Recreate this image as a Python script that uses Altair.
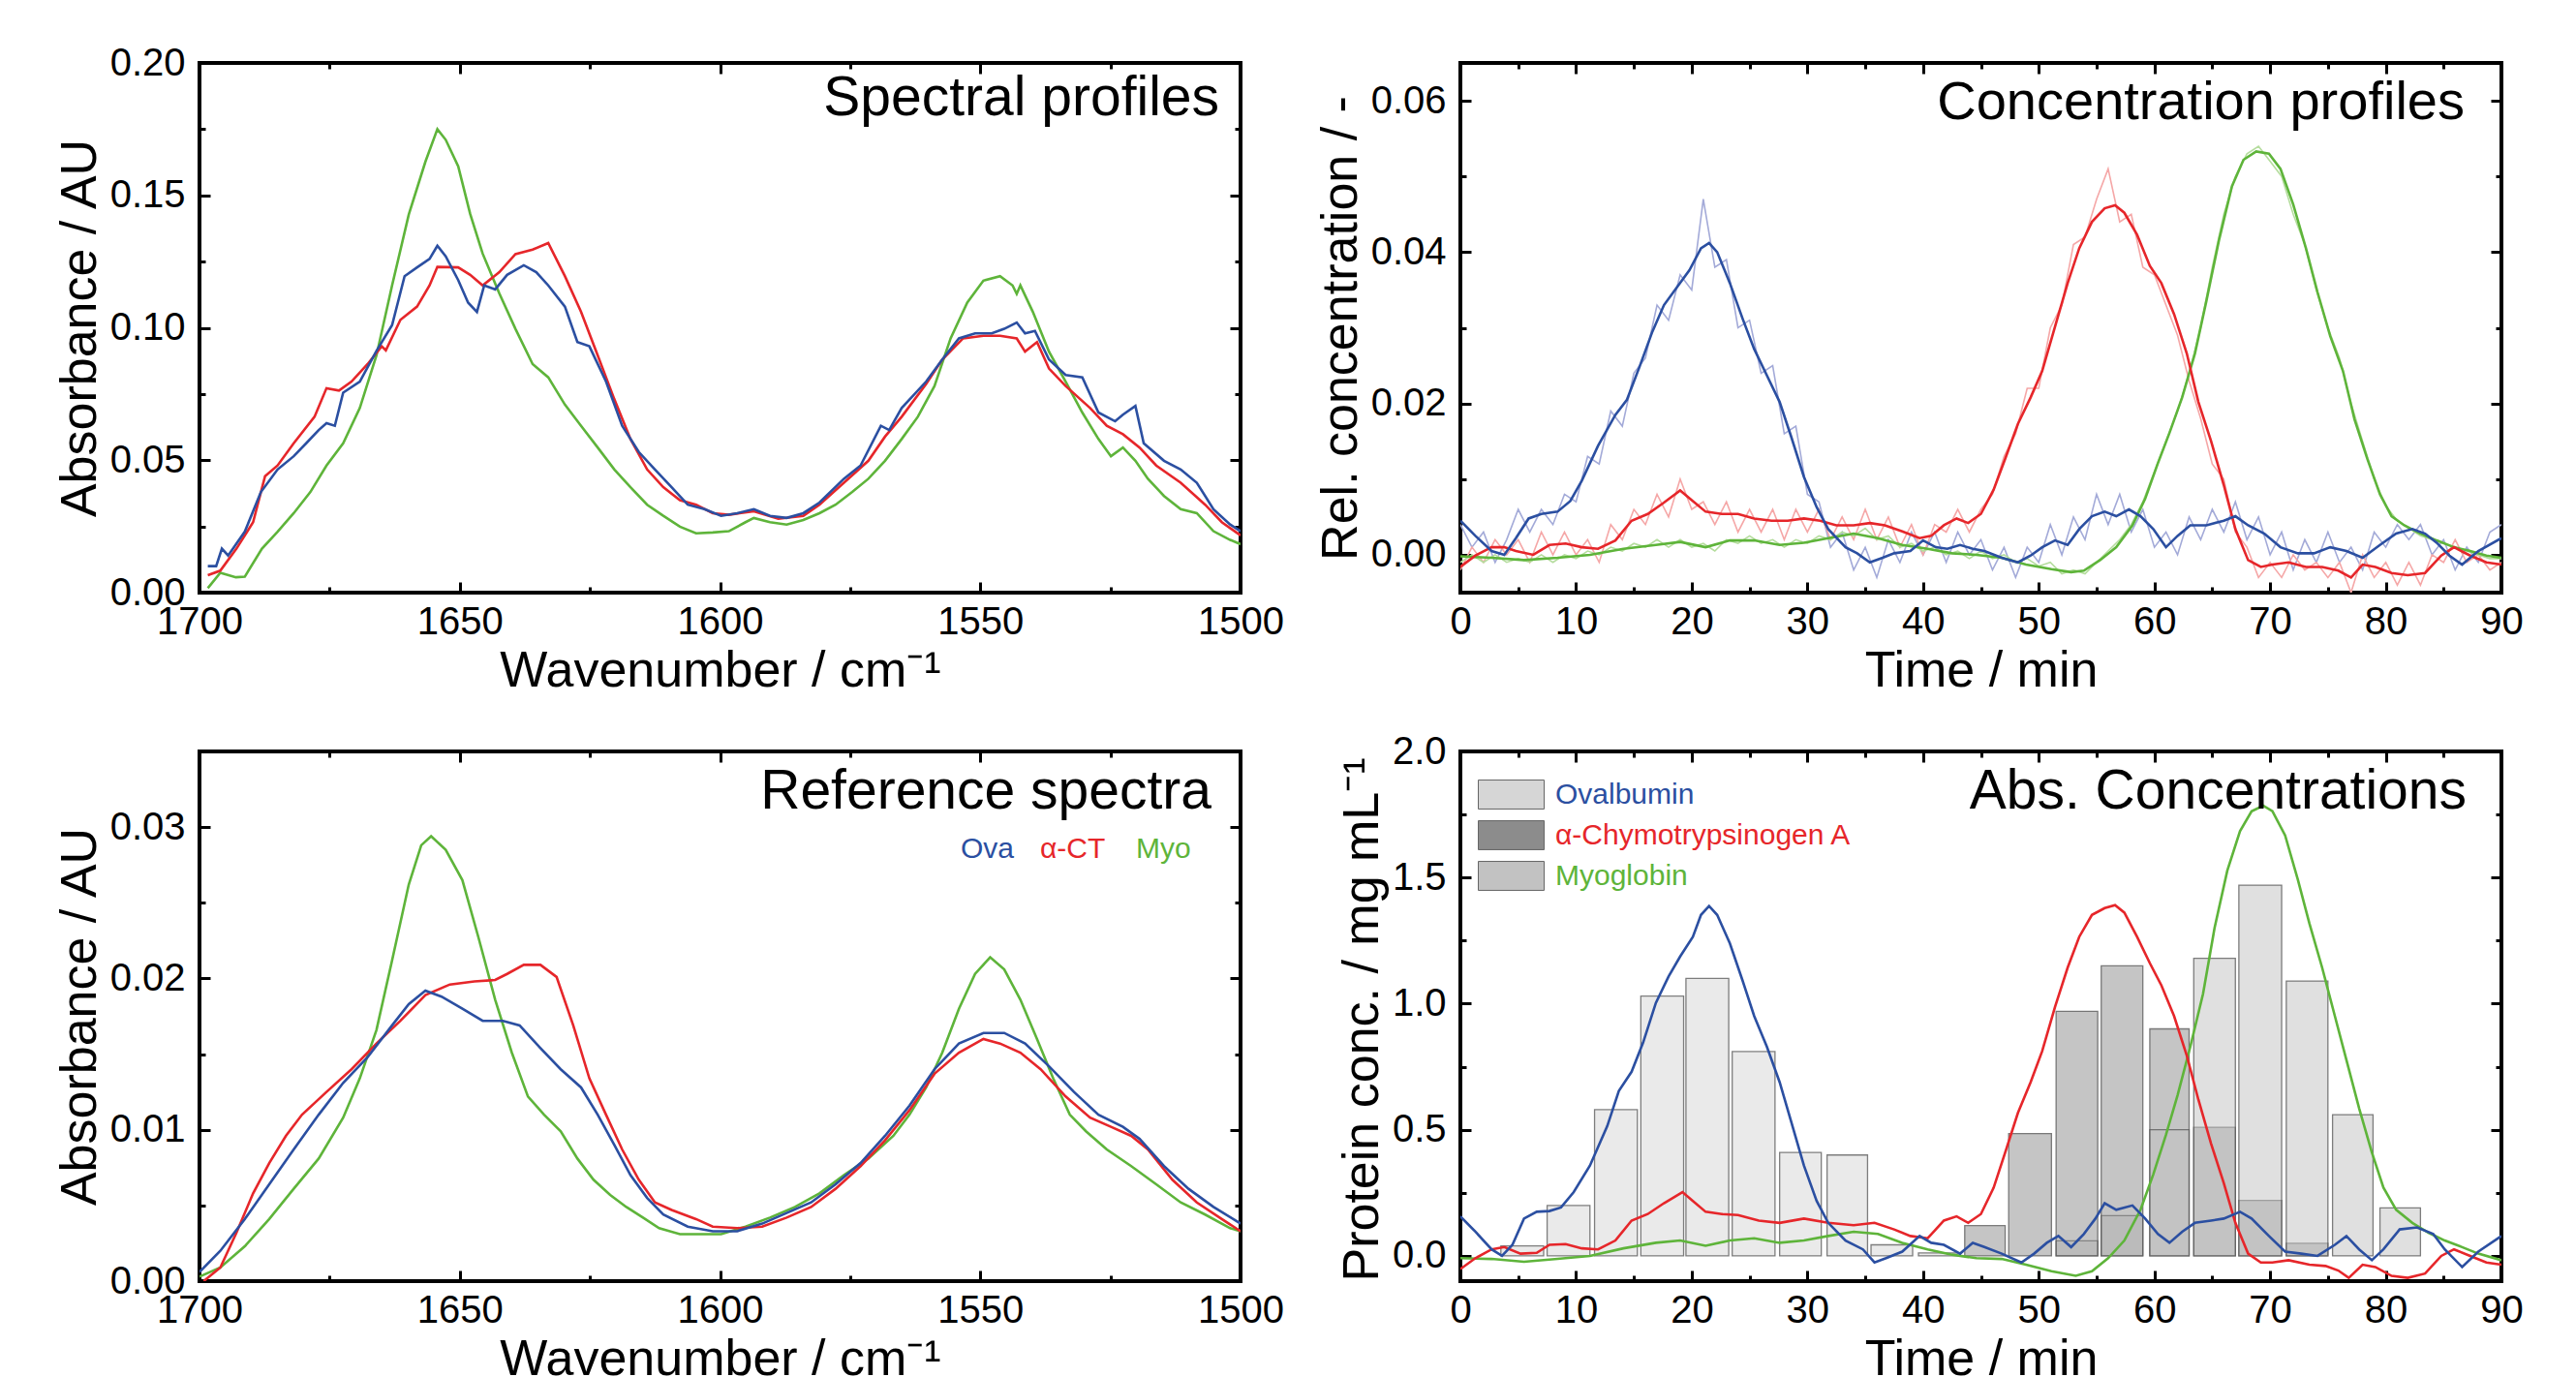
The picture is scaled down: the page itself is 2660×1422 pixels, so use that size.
import altair as alt
import pandas as pd

FONT = "Liberation Sans"
BLUE, RED, GREEN = "#2b4fa1", "#e6262a", "#5eb43a"
BLUE_RAW, RED_RAW, GREEN_RAW = "#a3aad8", "#f5a7a7", "#b5dd9e"
W, H = 1075, 547
COL_GAP, ROW_GAP = 227, 164
TMAJ, TMIN = -11, -6
LABEL_GAP_Y = 15
LABEL_GAP_X = 10

# ---------------- Panel A: Spectral profiles ----------------
spec_myo_wn = [1698.4, 1696.0, 1693.0, 1691.3, 1688.0, 1685.0, 1681.9, 1678.7, 1675.6, 1672.4, 1669.2, 1666.0,
               1663.0, 1659.8, 1656.6, 1654.3, 1652.7, 1650.3, 1648.0, 1645.6, 1642.4, 1639.3, 1636.0, 1633.0,
               1629.8, 1626.7, 1623.5, 1620.3, 1617.2, 1614.0, 1610.9, 1607.7, 1604.6, 1601.4, 1598.3, 1595.1,
               1593.5, 1590.4, 1587.2, 1584.0, 1580.9, 1577.8, 1574.6, 1571.5, 1568.3, 1565.1, 1562.0, 1558.8,
               1555.7, 1552.5, 1549.4, 1546.2, 1543.8, 1543.0, 1542.3, 1539.9, 1536.8, 1533.6, 1530.4, 1527.3,
               1524.9, 1522.6, 1520.2, 1517.8, 1514.7, 1511.5, 1508.4, 1505.2, 1502.0, 1500.0]
spec_myo_abs = [0.0017, 0.0075, 0.0058, 0.0060, 0.0166, 0.0230, 0.0300, 0.0380, 0.0480, 0.0564, 0.0697, 0.0896,
                0.1160, 0.1427, 0.1627, 0.1750, 0.1710, 0.1610, 0.1430, 0.1280, 0.1130, 0.0996, 0.0863, 0.0813,
                0.0710, 0.0630, 0.0548, 0.0465, 0.0398, 0.0332, 0.0290, 0.0249, 0.0224, 0.0227, 0.0232, 0.0266,
                0.0282, 0.0266, 0.0257, 0.0274, 0.0300, 0.0332, 0.0380, 0.0430, 0.0498, 0.0580, 0.0664, 0.0780,
                0.0960, 0.1095, 0.1178, 0.1195, 0.1160, 0.1128, 0.1160, 0.1060, 0.0910, 0.0797, 0.0680, 0.0580,
                0.0515, 0.0548, 0.0498, 0.0430, 0.0365, 0.0315, 0.0300, 0.0232, 0.0199, 0.0183]
spec_act_wn = [1698.4, 1696.0, 1692.9, 1689.7, 1687.4, 1685.0, 1681.9, 1677.9, 1675.6, 1673.2, 1670.8, 1667.7,
               1665.0, 1664.2, 1661.4, 1658.2, 1655.8, 1654.3, 1650.3, 1648.0, 1645.6, 1642.4, 1639.3, 1636.0,
               1633.0, 1629.8, 1626.7, 1623.5, 1620.3, 1617.2, 1614.0, 1610.9, 1607.7, 1604.6, 1601.4, 1598.3,
               1593.5, 1588.8, 1584.0, 1580.9, 1576.2, 1571.5, 1568.3, 1565.1, 1560.4, 1557.3, 1553.3, 1549.4,
               1546.2, 1543.0, 1541.4, 1539.1, 1536.8, 1533.6, 1528.9, 1525.7, 1522.6, 1519.4, 1516.2, 1511.5,
               1506.8, 1503.6, 1500.0]
spec_act_abs = [0.0066, 0.0083, 0.0166, 0.0266, 0.0440, 0.0480, 0.0564, 0.0664, 0.0772, 0.0763, 0.0797, 0.0863,
                0.0930, 0.0915, 0.1030, 0.1080, 0.1160, 0.1230, 0.1228, 0.1200, 0.1160, 0.1210, 0.1278, 0.1295,
                0.1320, 0.1195, 0.1060, 0.0896, 0.0730, 0.0580, 0.0465, 0.0398, 0.0349, 0.0332, 0.0300, 0.0294,
                0.0307, 0.0279, 0.0290, 0.0332, 0.0415, 0.0498, 0.0589, 0.0664, 0.0788, 0.0880, 0.0960, 0.0970,
                0.0970, 0.0960, 0.0910, 0.0946, 0.0846, 0.0780, 0.0697, 0.0630, 0.0598, 0.0548, 0.0480, 0.0415,
                0.0332, 0.0266, 0.0216]
spec_ova_wn = [1698.4, 1696.8, 1695.7, 1694.5, 1691.3, 1688.2, 1685.0, 1681.9, 1679.5, 1677.1, 1675.6, 1674.0,
               1672.4, 1669.2, 1666.0, 1663.0, 1660.6, 1658.2, 1655.8, 1654.3, 1652.7, 1650.3, 1648.4, 1646.7,
               1645.3, 1643.2, 1640.9, 1637.7, 1635.3, 1633.0, 1629.8, 1627.4, 1625.1, 1621.9, 1618.8, 1615.6,
               1612.5, 1609.3, 1606.2, 1603.0, 1599.8, 1596.7, 1593.5, 1590.4, 1587.2, 1584.0, 1580.9, 1576.2,
               1573.0, 1569.1, 1567.5, 1565.1, 1560.4, 1557.3, 1554.1, 1551.0, 1547.8, 1545.4, 1543.0, 1541.4,
               1539.5, 1536.8, 1533.6, 1530.4, 1527.3, 1524.1, 1522.6, 1520.2, 1518.6, 1514.7, 1511.5, 1508.4,
               1505.2, 1502.0, 1500.0]
spec_ova_abs = [0.0100, 0.0100, 0.0166, 0.0140, 0.0230, 0.0380, 0.0465, 0.0515, 0.0564, 0.0614, 0.0640, 0.0630,
                0.0755, 0.0797, 0.0913, 0.1010, 0.1195, 0.1228, 0.1260, 0.1310, 0.1270, 0.1180, 0.1095, 0.1060,
                0.1160, 0.1145, 0.1200, 0.1236, 0.1210, 0.1160, 0.1080, 0.0946, 0.0930, 0.0797, 0.0630, 0.0531,
                0.0465, 0.0398, 0.0332, 0.0315, 0.0290, 0.0300, 0.0315, 0.0290, 0.0282, 0.0300, 0.0340, 0.0430,
                0.0480, 0.0630, 0.0614, 0.0697, 0.0797, 0.0880, 0.0960, 0.0979, 0.0979, 0.0996, 0.1020, 0.0979,
                0.0988, 0.0880, 0.0822, 0.0813, 0.0680, 0.0647, 0.0672, 0.0705, 0.0564, 0.0498, 0.0465, 0.0415,
                0.0315, 0.0257, 0.0232]

# ---------------- Panel C: Reference spectra ----------------
ref_myo_wn = [1700.0, 1696.0, 1691.3, 1686.6, 1681.9, 1677.1, 1672.4, 1669.2, 1666.0, 1663.0, 1659.8, 1657.4,
              1655.5, 1652.7, 1649.5, 1646.4, 1643.2, 1640.0, 1636.9, 1633.8, 1630.6, 1627.4, 1624.3, 1621.1,
              1618.0, 1614.8, 1611.7, 1607.7, 1603.0, 1599.8, 1595.1, 1590.4, 1585.6, 1580.9, 1576.2, 1571.5,
              1566.7, 1563.6, 1560.4, 1557.3, 1554.1, 1551.0, 1548.1, 1545.4, 1542.3, 1539.1, 1536.0, 1532.8,
              1529.7, 1525.7, 1521.0, 1516.2, 1511.5, 1506.8, 1502.0, 1500.0]
ref_myo_abs = [0.0003, 0.0009, 0.0023, 0.0041, 0.0061, 0.0081, 0.0108, 0.0134, 0.0166, 0.0212, 0.0262, 0.0288,
               0.0294, 0.0285, 0.0265, 0.0227, 0.0186, 0.0151, 0.0122, 0.0110, 0.0099, 0.0081, 0.0067, 0.0057,
               0.0049, 0.0042, 0.0035, 0.0031, 0.0031, 0.0031, 0.0036, 0.0042, 0.0049, 0.0058, 0.0070, 0.0081,
               0.0096, 0.0110, 0.0128, 0.0151, 0.0180, 0.0203, 0.0214, 0.0206, 0.0186, 0.0160, 0.0134, 0.0110,
               0.0099, 0.0087, 0.0076, 0.0064, 0.0052, 0.0044, 0.0035, 0.0033]
ref_act_wn = [1699.2, 1696.0, 1692.9, 1689.7, 1686.6, 1683.4, 1680.3, 1675.6, 1670.8, 1666.0, 1661.4, 1656.6,
              1651.9, 1647.2, 1643.2, 1640.9, 1637.7, 1634.5, 1631.4, 1628.2, 1625.1, 1621.9, 1618.8, 1615.6,
              1612.5, 1609.3, 1604.6, 1601.4, 1596.7, 1591.9, 1587.2, 1582.5, 1577.8, 1573.0, 1568.3, 1563.6,
              1558.8, 1554.1, 1549.4, 1546.2, 1542.3, 1538.4, 1533.6, 1528.9, 1524.9, 1521.0, 1517.8, 1513.1,
              1508.4, 1503.6, 1500.0]
ref_act_abs = [0.0000, 0.0009, 0.0032, 0.0058, 0.0078, 0.0096, 0.0110, 0.0125, 0.0140, 0.0157, 0.0172, 0.0189,
               0.0196, 0.0198, 0.0199, 0.0203, 0.0209, 0.0209, 0.0201, 0.0169, 0.0134, 0.0110, 0.0087, 0.0067,
               0.0052, 0.0047, 0.0041, 0.0036, 0.0035, 0.0036, 0.0042, 0.0049, 0.0061, 0.0076, 0.0093, 0.0113,
               0.0137, 0.0151, 0.0160, 0.0157, 0.0151, 0.0140, 0.0122, 0.0108, 0.0102, 0.0096, 0.0087, 0.0067,
               0.0052, 0.0041, 0.0033]
ref_ova_wn = [1700.0, 1696.0, 1691.3, 1686.6, 1681.9, 1677.1, 1672.4, 1667.7, 1663.0, 1659.8, 1656.6, 1653.5,
              1649.5, 1645.6, 1641.7, 1638.5, 1634.5, 1630.6, 1626.7, 1623.5, 1620.3, 1617.2, 1614.0, 1610.9,
              1606.2, 1601.4, 1596.7, 1591.9, 1587.2, 1582.5, 1577.8, 1573.0, 1568.3, 1563.6, 1558.8, 1554.1,
              1549.4, 1545.4, 1541.4, 1536.8, 1532.0, 1527.3, 1522.6, 1519.4, 1514.7, 1510.0, 1505.2, 1500.0]
ref_ova_abs = [0.0006, 0.0020, 0.0041, 0.0064, 0.0087, 0.0110, 0.0131, 0.0148, 0.0169, 0.0183, 0.0192, 0.0188,
               0.0180, 0.0172, 0.0172, 0.0169, 0.0154, 0.0140, 0.0128, 0.0110, 0.0090, 0.0070, 0.0055, 0.0044,
               0.0036, 0.0033, 0.0033, 0.0038, 0.0045, 0.0052, 0.0064, 0.0078, 0.0096, 0.0116, 0.0140, 0.0157,
               0.0164, 0.0164, 0.0157, 0.0142, 0.0125, 0.0110, 0.0102, 0.0094, 0.0076, 0.0061, 0.0049, 0.0038]

# ---------------- Panel B: Concentration profiles ----------------
conc_ova_t = [0, 1.3, 2.7, 3.8, 4.8, 5.9, 7.0, 8.4, 9.5, 10.5, 11.9, 13.4, 14.4, 15.5, 16.6, 17.6, 18.7, 19.8,
              20.8, 21.5, 22.2, 23.3, 24.4, 25.4, 26.5, 27.6, 28.6, 29.7, 30.8, 31.8, 33.3, 34.3, 35.4, 36.5,
              37.5, 38.9, 40.0, 41.1, 42.1, 43.2, 44.3, 45.3, 46.8, 48.2, 49.3, 50.3, 51.4, 52.5, 53.5, 54.6,
              55.7, 56.7, 57.8, 58.8, 59.9, 61.0, 62.0, 63.1, 64.5, 66.0, 67.0, 68.1, 69.5, 70.9, 72.4, 73.8,
              75.2, 76.6, 78.0, 79.5, 80.9, 82.3, 83.4, 84.4, 85.5, 86.6, 88.0, 90.0]
conc_ova_c = [0.0045, 0.0025, 0.0005, 0.0000, 0.0022, 0.0048, 0.0054, 0.0057, 0.0071, 0.0098, 0.0144, 0.0185,
              0.0205, 0.0249, 0.0295, 0.0330, 0.0353, 0.0376, 0.0405, 0.0412, 0.0400, 0.0359, 0.0312, 0.0272,
              0.0237, 0.0202, 0.0156, 0.0103, 0.0063, 0.0034, 0.0010, 0.0002, -0.0010, -0.0004, 0.0002, 0.0005,
              0.0019, 0.0010, 0.0008, 0.0013, 0.0008, 0.0005, -0.0004, -0.0010, -0.0001, 0.0010, 0.0019, 0.0013,
              0.0034, 0.0051, 0.0057, 0.0051, 0.0060, 0.0051, 0.0034, 0.0010, 0.0025, 0.0039, 0.0039, 0.0045,
              0.0051, 0.0039, 0.0028, 0.0010, 0.0002, 0.0002, 0.0010, 0.0005, -0.0004, 0.0013, 0.0028, 0.0034,
              0.0028, 0.0016, -0.0001, -0.0013, 0.0005, 0.0022]
conc_act_t = [0, 1.3, 2.7, 3.8, 4.8, 6.3, 7.7, 9.1, 10.5, 11.9, 13.4, 14.8, 16.2, 17.6, 19.0, 20.1, 21.2, 22.6,
              24.0, 25.4, 26.9, 28.3, 29.7, 31.1, 32.5, 34.0, 35.4, 36.7, 38.2, 39.7, 40.7, 41.8, 42.9, 43.9,
              45.0, 46.1, 47.1, 48.2, 49.3, 50.3, 51.4, 52.5, 53.5, 54.6, 55.7, 56.6, 57.4, 58.5, 59.6, 60.6,
              61.7, 62.8, 63.8, 64.9, 66.0, 67.0, 68.1, 69.2, 70.2, 71.6, 73.1, 74.5, 75.9, 77.0, 78.0, 79.1,
              80.5, 81.9, 83.4, 84.8, 85.9, 87.3, 88.7, 90.0]
conc_act_c = [-0.0016, -0.0001, 0.0010, 0.0010, 0.0005, 0.0000, 0.0013, 0.0015, 0.0010, 0.0008, 0.0019, 0.0045,
              0.0054, 0.0069, 0.0085, 0.0071, 0.0057, 0.0054, 0.0054, 0.0048, 0.0045, 0.0045, 0.0048, 0.0045,
              0.0039, 0.0039, 0.0042, 0.0039, 0.0031, 0.0022, 0.0025, 0.0039, 0.0048, 0.0042, 0.0054, 0.0086,
              0.0127, 0.0173, 0.0208, 0.0243, 0.0301, 0.0359, 0.0405, 0.0440, 0.0458, 0.0462, 0.0452, 0.0423,
              0.0382, 0.0359, 0.0318, 0.0266, 0.0202, 0.0150, 0.0092, 0.0034, -0.0007, -0.0016, -0.0013, -0.0010,
              -0.0016, -0.0016, -0.0021, -0.0030, -0.0013, -0.0016, -0.0024, -0.0027, -0.0024, -0.0001, 0.0010,
              -0.0001, -0.0010, -0.0013]
conc_myo_t = [0, 2.7, 5.5, 8.4, 11.2, 14.1, 16.9, 19.0, 21.2, 23.3, 25.4, 27.6, 29.7, 31.8, 34.0, 36.1, 38.2,
              40.4, 42.5, 44.6, 46.8, 48.9, 51.1, 52.8, 53.9, 55.3, 56.7, 58.1, 59.2, 60.3, 61.3, 62.4, 63.5,
              64.5, 65.6, 66.7, 67.7, 68.8, 69.9, 70.9, 72.0, 73.1, 74.1, 75.2, 76.3, 77.3, 78.4, 79.5, 80.5,
              81.6, 83.0, 84.4, 85.9, 87.3, 88.7, 90.0]
conc_myo_c = [-0.0002, -0.0004, -0.0007, -0.0004, 0.0000, 0.0008, 0.0013, 0.0017, 0.0010, 0.0019, 0.0019, 0.0013,
              0.0016, 0.0022, 0.0028, 0.0022, 0.0013, 0.0008, 0.0002, 0.0000, -0.0004, -0.0013, -0.0019, -0.0023,
              -0.0021, -0.0007, 0.0010, 0.0039, 0.0074, 0.0121, 0.0161, 0.0208, 0.0266, 0.0336, 0.0417, 0.0487,
              0.0522, 0.0533, 0.0530, 0.0510, 0.0463, 0.0405, 0.0347, 0.0289, 0.0243, 0.0179, 0.0127, 0.0080,
              0.0051, 0.0039, 0.0028, 0.0019, 0.0010, 0.0005, -0.0001, -0.0004]
raw_t = list(range(0, 91))
raw_ova = [0.004, 0.001, 0.003, -0.001, 0.002, 0.006, 0.003, 0.006, 0.004, 0.008, 0.007, 0.013, 0.012, 0.019,
           0.017, 0.024, 0.026, 0.033, 0.031, 0.037, 0.035, 0.047, 0.038, 0.039, 0.030, 0.031, 0.024, 0.025,
           0.016, 0.017, 0.008, 0.007, 0.001, 0.003, -0.002, 0.001, -0.003, 0.002, -0.001, 0.003, 0.000, 0.003,
           -0.001, 0.003, 0.000, 0.002, -0.002, 0.001, -0.003, 0.001, -0.001, 0.004, 0.000, 0.005, 0.002, 0.008,
           0.004, 0.008, 0.003, 0.006, 0.001, 0.003, 0.000, 0.005, 0.002, 0.006, 0.003, 0.007, 0.002, 0.005,
           0.000, 0.003, -0.002, 0.002, -0.001, 0.003, -0.001, 0.001, -0.002, 0.003, 0.001, 0.004, 0.002, 0.004,
           0.000, 0.002, -0.002, 0.001, -0.001, 0.003, 0.004]
raw_act = [-0.002, 0.001, -0.001, 0.002, 0.000, 0.002, -0.001, 0.003, 0.000, 0.003, 0.000, 0.002, -0.001, 0.004,
           0.002, 0.006, 0.004, 0.008, 0.005, 0.010, 0.006, 0.007, 0.004, 0.007, 0.003, 0.006, 0.003, 0.006,
           0.002, 0.006, 0.003, 0.006, 0.002, 0.005, 0.002, 0.006, 0.002, 0.005, 0.001, 0.004, 0.000, 0.004,
           0.003, 0.006, 0.003, 0.006, 0.008, 0.013, 0.016, 0.022, 0.022, 0.030, 0.033, 0.041, 0.042, 0.047,
           0.051, 0.044, 0.045, 0.038, 0.037, 0.033, 0.029, 0.023, 0.018, 0.012, 0.010, 0.003, 0.001, -0.003,
           -0.001, -0.003, 0.000, -0.002, -0.001, -0.003, -0.001, -0.005, 0.000, -0.003, -0.001, -0.004, -0.001,
           -0.004, 0.000, -0.001, 0.002, -0.001, 0.000, -0.002, -0.001]
raw_myo = [-0.001, 0.000, -0.001, 0.000, -0.001, -0.0005, -0.001, 0.000, -0.001, 0.000, -0.0005, 0.0005, 0.000,
           0.001, 0.0005, 0.0015, 0.001, 0.002, 0.001, 0.002, 0.001, 0.0015, 0.0005, 0.002, 0.0015, 0.0025,
           0.0015, 0.002, 0.001, 0.002, 0.0015, 0.0025, 0.002, 0.003, 0.0025, 0.0035, 0.002, 0.0025, 0.001,
           0.0015, 0.0005, 0.001, 0.000, 0.0005, -0.0005, 0.0005, -0.0005, 0.000, -0.001, -0.0005, -0.0015,
           -0.001, -0.0025, -0.002, -0.0025, -0.001, 0.0005, 0.002, 0.004, 0.007, 0.011, 0.015, 0.019, 0.024,
           0.030, 0.038, 0.045, 0.050, 0.053, 0.054, 0.052, 0.050, 0.045, 0.041, 0.035, 0.030, 0.026, 0.020,
           0.015, 0.010, 0.0065, 0.0045, 0.0035, 0.0025, 0.002, 0.0015, 0.001, 0.0005, 0.000, -0.0005, -0.0005]

# ---------------- Panel D: Abs. Concentrations ----------------
abs_ova_t = [0, 1.3, 2.7, 3.6, 4.5, 5.5, 6.6, 7.7, 8.7, 9.8, 11.2, 12.7, 13.7, 14.8, 15.8, 16.9, 18.0, 19.0,
             20.1, 20.8, 21.5, 22.2, 23.3, 24.4, 25.4, 26.5, 27.6, 28.6, 29.7, 30.8, 31.8, 33.3, 34.8, 35.8,
             36.8, 38.2, 39.7, 40.7, 41.8, 43.2, 44.3, 45.3, 46.8, 48.5, 49.6, 50.7, 51.7, 52.8, 53.9, 54.9,
             55.7, 56.7, 58.1, 59.2, 60.3, 61.3, 62.4, 63.5, 64.9, 66.0, 67.4, 68.4, 69.9, 71.3, 72.7, 74.1,
             75.6, 76.6, 77.7, 78.8, 79.8, 81.2, 82.7, 84.1, 85.1, 86.6, 88.0, 90.0]
abs_ova_c = [0.157, 0.096, 0.026, 0.000, 0.044, 0.148, 0.175, 0.178, 0.192, 0.253, 0.358, 0.515, 0.654, 0.730,
             0.846, 1.003, 1.108, 1.187, 1.265, 1.352, 1.387, 1.352, 1.239, 1.091, 0.951, 0.829, 0.689, 0.532,
             0.358, 0.218, 0.131, 0.061, 0.026, -0.026, -0.009, 0.017, 0.079, 0.052, 0.044, 0.009, 0.052, 0.035,
             0.009, -0.026, 0.009, 0.052, 0.079, 0.035, 0.087, 0.148, 0.209, 0.183, 0.200, 0.148, 0.087, 0.052,
             0.096, 0.131, 0.140, 0.148, 0.175, 0.148, 0.079, 0.017, 0.009, 0.000, 0.044, 0.079, 0.026, -0.017,
             0.026, 0.105, 0.113, 0.087, 0.026, -0.044, 0.017, 0.079]
abs_act_t = [0, 1.3, 2.7, 3.8, 5.2, 6.6, 7.7, 9.1, 10.5, 11.9, 13.4, 14.8, 16.2, 17.6, 19.2, 20.1, 21.2, 22.6,
             24.0, 25.8, 27.6, 29.7, 31.8, 34.0, 35.8, 37.5, 38.9, 40.4, 41.8, 42.9, 43.9, 45.0, 46.1, 47.1,
             48.2, 49.3, 50.3, 51.4, 52.5, 53.5, 54.6, 55.7, 56.6, 57.4, 58.5, 59.6, 60.6, 61.7, 62.8, 63.8,
             64.9, 66.0, 67.0, 68.1, 69.2, 70.2, 71.6, 73.4, 74.8, 75.9, 76.8, 78.0, 79.1, 80.5, 81.9, 83.4,
             84.8, 85.9, 87.3, 88.7, 90.0]
abs_act_c = [-0.052, -0.009, 0.026, 0.035, 0.009, 0.012, 0.044, 0.047, 0.030, 0.026, 0.061, 0.140, 0.166, 0.209,
             0.253, 0.218, 0.175, 0.166, 0.162, 0.140, 0.131, 0.148, 0.131, 0.122, 0.131, 0.105, 0.079, 0.070,
             0.140, 0.157, 0.131, 0.166, 0.270, 0.410, 0.567, 0.689, 0.812, 0.986, 1.143, 1.265, 1.352, 1.379,
             1.391, 1.361, 1.265, 1.161, 1.073, 0.951, 0.794, 0.620, 0.445, 0.288, 0.131, 0.009, -0.026, -0.026,
             -0.017, -0.035, -0.040, -0.058, -0.087, -0.035, -0.044, -0.079, -0.087, -0.070, 0.000, 0.026, 0.000,
             -0.026, -0.035]
abs_myo_t = [0, 2.7, 5.5, 8.4, 11.2, 14.1, 16.9, 19.0, 21.2, 23.3, 25.4, 27.6, 29.7, 31.8, 34.0, 36.1, 38.2,
             40.4, 42.5, 44.6, 46.8, 48.9, 51.1, 53.2, 54.6, 56.0, 57.4, 58.8, 59.9, 61.0, 62.0, 63.1, 64.2,
             65.2, 66.3, 67.4, 68.4, 69.4, 70.2, 71.3, 72.4, 73.4, 74.5, 75.6, 76.6, 77.7, 78.8, 79.8, 80.9,
             82.3, 83.7, 85.1, 86.6, 88.0, 90.0]
abs_myo_c = [-0.009, -0.012, -0.023, -0.012, 0.000, 0.030, 0.052, 0.061, 0.040, 0.061, 0.070, 0.052, 0.061, 0.079,
             0.096, 0.087, 0.052, 0.026, 0.005, -0.009, -0.012, -0.035, -0.061, -0.079, -0.061, -0.009, 0.061,
             0.183, 0.323, 0.480, 0.637, 0.829, 1.038, 1.300, 1.527, 1.684, 1.763, 1.785, 1.763, 1.667, 1.492,
             1.318, 1.143, 0.951, 0.777, 0.585, 0.410, 0.271, 0.183, 0.131, 0.092, 0.061, 0.035, 0.009, -0.017]

frac_start = [3.5, 7.5, 11.6, 15.6, 19.5, 23.5, 27.6, 31.7, 35.5, 39.6, 43.6, 47.4, 51.5, 55.4, 59.6, 63.4,
              67.3, 71.4, 75.4, 79.5]
frac_end = [7.2, 11.2, 15.3, 19.3, 23.2, 27.2, 31.2, 35.2, 39.1, 43.2, 47.1, 51.1, 55.1, 59.0, 63.0, 67.0,
            71.0, 75.0, 78.9, 83.0]
bar_ova = [0.04, 0.20, 0.58, 1.03, 1.10, 0.81, 0.41, 0.40, 0.044, 0.012, 0, 0, 0.06, 0.16, 0, 0, 0, 0, 0, 0]
bar_act = [0, 0, 0, 0, 0, 0, 0, 0, 0, 0, 0.12, 0.485, 0.97, 1.15, 0.90, 0.51, 0.22, 0.05, 0, 0]
bar_myo = [0, 0, 0, 0, 0, 0, 0, 0, 0, 0, 0, 0, 0, 0, 0.50, 1.18, 1.47, 1.09, 0.56, 0.19]
protein_names = ["Ovalbumin", "α-Chymotrypsinogen A", "Myoglobin"]
bar_fills = ["#d6d6d6", "#8c8c8c", "#c2c2c2"]

panel_titles = ["Spectral profiles", "Concentration profiles", "Reference spectra", "Abs. Concentrations"]
ref_labels = ["Ova", "α-CT", "Myo"]

wn_ticks = [1700, 1675, 1650, 1625, 1600, 1575, 1550, 1525, 1500]
t_ticks = [0, 5, 10, 15, 20, 25, 30, 35, 40, 45, 50, 55, 60, 65, 70, 75, 80, 85, 90]
yA_ticks = [0, 0.025, 0.05, 0.075, 0.1, 0.125, 0.15, 0.175, 0.2]
yB_ticks = [0, 0.01, 0.02, 0.03, 0.04, 0.05, 0.06]
yC_ticks = [0, 0.005, 0.01, 0.015, 0.02, 0.025, 0.03, 0.035]
yD_ticks = [0, 0.25, 0.5, 0.75, 1.0, 1.25, 1.5, 1.75, 2.0]


def maj(step):
    return f"abs(datum.value / {step} - round(datum.value / {step})) < 0.01"


def axis(orient, vals, step, fmt="d", title="", tpad=0, anchor=None):
    kw = dict(orient=orient, values=vals, grid=False, domain=False,
              tickSize={"expr": f"{maj(step)} ? {TMAJ} : {TMIN}"},
              tickColor="black", tickWidth=3)
    if orient in ("bottom", "left"):
        gap = LABEL_GAP_X if orient == "bottom" else LABEL_GAP_Y
        kw.update(format=fmt, title=title, titlePadding=tpad,
                  labelExpr=f"{maj(step)} ? datum.label : ''",
                  labelPadding=gap - TMAJ, labelFlush=False, labelOverlap=False)
        if anchor:
            kw["titleAnchor"] = anchor
    else:
        kw.update(labels=False, title=None)
    return alt.Axis(**kw)


def text_layer(label, px, py, size, color="black", align="right"):
    return alt.Chart(alt.Data(values=[{"label": label}])).mark_text(
        font=FONT, fontSize=size, color=color, align=align, baseline="alphabetic"
    ).encode(x=alt.value(px), y=alt.value(py), text="label:N")


def panel(series, xs, ys, xax, yax, mirror_x, mirror_y, extra_front=(), extra_back=()):
    layers = list(extra_back)
    first = True
    for d, color, width in series:
        layers.append(alt.Chart(d).mark_line(color=color, strokeWidth=width, clip=True).encode(
            x=alt.X("x:Q", scale=xs, axis=xax if first else None),
            y=alt.Y("y:Q", scale=ys, axis=yax if first else None),
        ))
        first = False
    layers.append(alt.Chart(series[0][0]).mark_point(opacity=0).encode(
        x=alt.X("x:Q", scale=xs, axis=mirror_x),
        y=alt.Y("y:Q", scale=ys, axis=mirror_y),
    ))
    layers += list(extra_front)
    return alt.layer(*layers).properties(width=W, height=H)


def df(xs, ys):
    return pd.DataFrame({"x": xs, "y": ys})


wn_scale = alt.Scale(domain=[1500, 1700], reverse=True, nice=False, zero=False)
t_scale = alt.Scale(domain=[0, 90], nice=False, zero=False)

# Panel A
pA = panel(
    [(df(spec_myo_wn, spec_myo_abs), GREEN, 2.6), (df(spec_act_wn, spec_act_abs), RED, 2.6),
     (df(spec_ova_wn, spec_ova_abs), BLUE, 2.6)],
    wn_scale, alt.Scale(domain=[0, 0.2], nice=False, zero=False),
    axis("bottom", wn_ticks, 50, "d", "Wavenumber / cm⁻¹", 0),
    axis("left", yA_ticks, 0.05, ".2f", "Absorbance / AU", 4),
    axis("top", wn_ticks, 50), axis("right", yA_ticks, 0.05),
    extra_front=[text_layer(panel_titles[0], 1053, 54, 57)],
)

# Panel B
yB_scale = alt.Scale(domain=[-0.005, 0.065], nice=False, zero=False)
raw_layers = []
for vals, col in [(raw_ova, BLUE_RAW), (raw_act, RED_RAW), (raw_myo, GREEN_RAW)]:
    raw_layers.append(alt.Chart(df(raw_t, vals)).mark_line(color=col, strokeWidth=1.6, clip=True).encode(
        x=alt.X("x:Q", scale=t_scale, axis=None), y=alt.Y("y:Q", scale=yB_scale, axis=None)))
pB = panel(
    [(df(conc_myo_t, conc_myo_c), GREEN, 2.6), (df(conc_act_t, conc_act_c), RED, 2.6),
     (df(conc_ova_t, conc_ova_c), BLUE, 2.6)],
    t_scale, yB_scale,
    axis("bottom", t_ticks, 10, "d", "Time / min", 0),
    axis("left", yB_ticks, 0.02, ".2f", "Rel. concentration / -", 4),
    axis("top", t_ticks, 10), axis("right", yB_ticks, 0.02),
    extra_back=raw_layers,
    extra_front=[text_layer(panel_titles[1], 1037, 58, 56)],
)

# Panel C
pC = panel(
    [(df(ref_myo_wn, ref_myo_abs), GREEN, 2.6), (df(ref_act_wn, ref_act_abs), RED, 2.6),
     (df(ref_ova_wn, ref_ova_abs), BLUE, 2.6)],
    wn_scale, alt.Scale(domain=[0, 0.035], nice=False, zero=False),
    axis("bottom", wn_ticks, 50, "d", "Wavenumber / cm⁻¹", 0),
    axis("left", yC_ticks, 0.01, ".2f", "Absorbance / AU", 4),
    axis("top", wn_ticks, 50), axis("right", yC_ticks, 0.01),
    extra_front=[text_layer(panel_titles[2], 1045, 59, 57),
                 text_layer(ref_labels[0], 786, 110, 30, BLUE, "left"),
                 text_layer(ref_labels[1], 868, 110, 30, RED, "left"),
                 text_layer(ref_labels[2], 967, 110, 30, GREEN, "left")],
)

# Panel D
bar_rows = []
for name, vals in zip(protein_names, [bar_ova, bar_act, bar_myo]):
    for s, e, v in zip(frac_start, frac_end, vals):
        if v > 0:
            bar_rows.append({"start": s, "end": e, "value": v, "protein": name})
bars_df = pd.DataFrame(bar_rows)
yD_scale = alt.Scale(domain=[-0.1, 2.0], nice=False, zero=False)
label_color_expr = (f"datum.label == '{protein_names[0]}' ? '{BLUE}' : "
                    f"(datum.label == '{protein_names[2]}' ? '{GREEN}' : '{RED}')")
# legend is placed in the concat's coordinate frame: offset to panel D's plot origin
legend_x = W + COL_GAP + 35
legend_y = H + ROW_GAP + 27
bars = alt.Chart(bars_df).mark_bar(fillOpacity=0.5, stroke="#555555", strokeWidth=1.3,
                                   strokeOpacity=0.75).encode(
    x=alt.X("start:Q", scale=t_scale, axis=None),
    x2="end:Q",
    y=alt.Y("value:Q", scale=yD_scale, axis=None),
    y2=alt.datum(0),
    fill=alt.Fill("protein:N", scale=alt.Scale(domain=protein_names, range=bar_fills),
                  legend=alt.Legend(orient="none", legendX=legend_x, legendY=legend_y, title=None,
                                    symbolType="M-2,-0.88H2V0.88H-2Z", symbolSize=1156,
                                    symbolStrokeColor="#666666", symbolStrokeWidth=1,
                                    labelFont=FONT, labelFontSize=30, labelOffset=28, labelLimit=600,
                                    rowPadding=7, padding=0,
                                    labelColor={"expr": label_color_expr})),
)
pD = panel(
    [(df(abs_myo_t, abs_myo_c), GREEN, 2.6), (df(abs_act_t, abs_act_c), RED, 2.6),
     (df(abs_ova_t, abs_ova_c), BLUE, 2.6)],
    t_scale, yD_scale,
    axis("bottom", t_ticks, 10, "d", "Time / min", 0),
    axis("left", yD_ticks, 0.5, ".1f", "Protein conc. / mg mL⁻¹", 4, "start"),
    axis("top", t_ticks, 10), axis("right", yD_ticks, 0.5),
    extra_back=[bars],
    extra_front=[text_layer(panel_titles[3], 1039, 59, 57)],
)

chart = alt.concat(pA, pB, pC, pD, columns=2, spacing={"row": ROW_GAP, "column": COL_GAP},
                   bounds="flush").properties(
    padding={"left": 46, "top": 35, "right": 10, "bottom": 10}
).configure_view(stroke="black", strokeWidth=4).configure_axis(
    labelFont=FONT, labelFontSize=40, labelColor="black",
    titleFont=FONT, titleFontSize=52, titleFontWeight="normal", titleColor="black",
)

chart.save("out.html", embed_options={"renderer": "svg", "actions": False})
